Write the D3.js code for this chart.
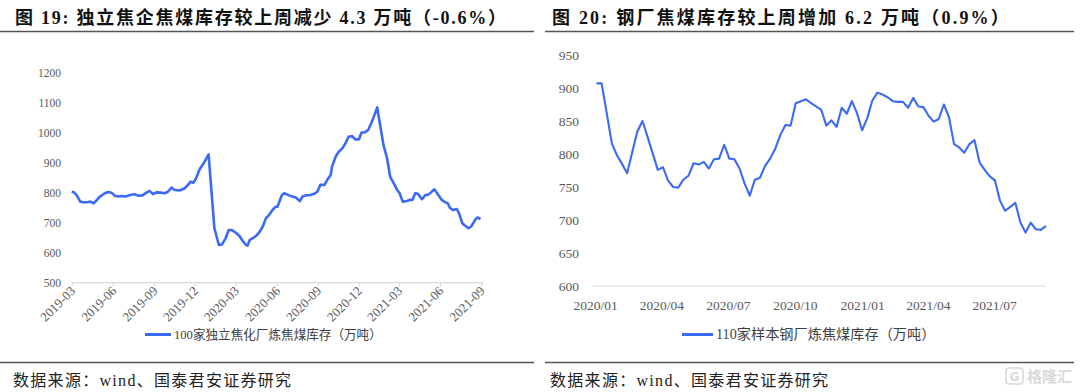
<!DOCTYPE html>
<html><head><meta charset="utf-8">
<script src="https://cdn.jsdelivr.net/npm/d3@7"></script>
<style>
html,body{margin:0;padding:0;background:#fff;}
svg{display:block;}
</style></head>
<body>
<svg id="c" width="1080" height="392"></svg>
<script>
// ---------- DATA ----------
const leftTitle = "图 19: 独立焦企焦煤库存较上周减少 4.3 万吨（-0.6%）";
const rightTitle = "图 20: 钢厂焦煤库存较上周增加 6.2 万吨（0.9%）";
const sourceText = "数据来源：wind、国泰君安证券研究";
const leftLegend = "100家独立焦化厂炼焦煤库存（万吨）";
const rightLegend = "110家样本钢厂炼焦煤库存（万吨）";

const leftDates = ["2019-03-01","2019-03-06","2019-03-12","2019-03-20","2019-03-27","2019-04-05","2019-04-12","2019-04-19","2019-04-26","2019-05-03","2019-05-14","2019-05-22","2019-05-29","2019-06-05","2019-06-13","2019-06-20","2019-06-30","2019-07-09","2019-07-20","2019-07-27","2019-08-06","2019-08-15","2019-08-22","2019-08-30","2019-09-06","2019-09-16","2019-09-25","2019-10-02","2019-10-10","2019-10-17","2019-10-28","2019-11-08","2019-11-16","2019-11-22","2019-11-28","2019-12-04","2019-12-12","2019-12-21","2020-01-01","2020-01-14","2020-01-24","2020-01-31","2020-02-08","2020-02-15","2020-02-22","2020-03-02","2020-03-10","2020-03-17","2020-03-25","2020-03-28","2020-04-02","2020-04-08","2020-04-16","2020-04-23","2020-05-01","2020-05-08","2020-05-15","2020-05-23","2020-05-30","2020-06-03","2020-06-13","2020-06-18","2020-06-29","2020-07-06","2020-07-14","2020-07-23","2020-07-29","2020-08-05","2020-08-16","2020-08-24","2020-08-31","2020-09-07","2020-09-16","2020-09-22","2020-09-30","2020-10-03","2020-10-11","2020-10-18","2020-10-26","2020-11-02","2020-11-09","2020-11-17","2020-11-24","2020-12-02","2020-12-08","2020-12-15","2020-12-23","2020-12-31","2021-01-06","2021-01-12","2021-01-19","2021-01-26","2021-02-03","2021-02-10","2021-02-18","2021-02-25","2021-03-03","2021-03-10","2021-03-19","2021-03-27","2021-04-01","2021-04-07","2021-04-13","2021-04-22","2021-04-29","2021-05-08","2021-05-16","2021-05-20","2021-05-29","2021-06-05","2021-06-13","2021-06-19","2021-06-24","2021-07-01","2021-07-09","2021-07-14","2021-07-21","2021-07-27","2021-08-04","2021-08-10","2021-08-19","2021-08-24","2021-08-31"];
const leftValues = [804,802,793,771,769,769,771,765,776,788,799,803,801,791,788,790,788,793,796,791,792,801,807,796,802,801,799,804,818,810,808,815,827,838,834,849,879,899,929,682,626,628,648,676,676,667,656,640,626,624,643,648,656,668,687,715,726,743,754,754,793,799,792,788,785,773,788,792,793,797,804,827,827,843,860,888,921,938,949,966,988,990,979,979,1002,1002,1011,1038,1061,1086,1022,960,916,854,832,812,799,771,773,777,777,799,797,779,792,796,807,812,792,777,769,765,749,743,746,732,699,691,682,688,710,718,713];
const leftTicks = ["2019-03","2019-06","2019-09","2019-12","2020-03","2020-06","2020-09","2020-12","2021-03","2021-06","2021-09"];
const leftYTicks = [500,600,700,800,900,1000,1100,1200];

const rightStart = "2020-01-03"; // weekly observations
const rightValues = [907,907,862,816,798,785,771,803,834,850,826,801,776,780,760,750,749,761,767,786,784,788,778,792,793,814,793,792,778,755,737,761,764,782,793,808,829,844,843,877,880,883,877,872,867,843,851,841,870,861,880,862,836,854,881,893,890,886,880,879,879,870,885,872,871,858,849,853,875,856,815,810,802,815,821,787,776,766,760,729,714,720,726,696,681,696,686,685,691];
const rightTicks = ["2020/01","2020/04","2020/07","2020/10","2021/01","2021/04","2021/07"];
const rightYTicks = [600,650,700,750,800,850,900,950];

// ---------- DRAW ----------
const svg = d3.select("#c");
const parse = d3.timeParse("%Y-%m-%d");
const LINE = "#3b6af5";
const TXT = "#404040";
const AX = "#595959";
const SERIF = "'Liberation Serif','Times New Roman','Noto Sans CJK SC',serif";
const CJK = "'Liberation Serif','Noto Sans CJK SC',serif";

// titles & rules
function header(x0, x1, tx, title, ls){
  svg.append("text").attr("x", tx).attr("y", 24)
    .attr("font-family", CJK).attr("font-size", 18).attr("font-weight", "bold")
    .attr("letter-spacing", ls).attr("fill", "#111").text(title);
  svg.append("line").attr("x1", x0).attr("x2", x1).attr("y1", 31.5).attr("y2", 31.5)
    .attr("stroke", "#555").attr("stroke-width", 1.5);
  svg.append("line").attr("x1", x0).attr("x2", x1).attr("y1", 362.5).attr("y2", 362.5)
    .attr("stroke", "#555").attr("stroke-width", 1.5);
  svg.append("text").attr("x", tx - 2).attr("y", 386)
    .attr("font-family", CJK).attr("font-size", 16).attr("letter-spacing", 1.3)
    .attr("fill", "#222").text(sourceText);
}
header(0, 534, 15, leftTitle, 1.75);
header(545, 1074, 552, rightTitle, 2.2);

// ---- left chart ----
const lx = d3.scaleTime().domain([parse("2019-03-01"), parse("2021-09-01")]).range([71.7, 481]);
const ly = d3.scaleLinear().domain([500, 1200]).range([282.7, 73.3]);
const gL = svg.append("g");
gL.append("line").attr("x1", 71.7).attr("x2", 483).attr("y1", ly(500)).attr("y2", ly(500))
  .attr("stroke", "#d9d9d9").attr("stroke-width", 1.2);
const lAxis = d3.axisBottom(lx).tickValues(leftTicks.map(t => parse(t + "-01")))
  .tickFormat((d, i) => leftTicks[i]).tickSize(4).tickSizeOuter(0);
const gLA = gL.append("g").attr("transform", `translate(0,${ly(500)})`).call(lAxis);
gLA.select(".domain").remove();
gLA.selectAll(".tick line").attr("stroke", "#d9d9d9");
gLA.selectAll(".tick text")
  .attr("font-family", SERIF).attr("font-size", 13).attr("fill", AX)
  .attr("text-anchor", "end").attr("dy", null).attr("y", 0)
  .attr("transform", "translate(4,9) rotate(-45)");
gL.selectAll(".ylab").data(leftYTicks).join("text")
  .attr("x", 61).attr("y", d => ly(d)).attr("dy", "0.35em").attr("text-anchor", "end")
  .attr("font-family", SERIF).attr("font-size", 11.5).attr("fill", AX).text(d => d);
const lData = leftDates.map((d, i) => ({d: parse(d), v: leftValues[i]}));
gL.append("path").datum(lData)
  .attr("d", d3.line().x(p => lx(p.d)).y(p => ly(p.v)))
  .attr("fill", "none").attr("stroke", LINE).attr("stroke-width", 2.6).attr("stroke-linejoin", "round");
gL.append("line").attr("x1", 145).attr("x2", 171).attr("y1", 334.5).attr("y2", 334.5)
  .attr("stroke", LINE).attr("stroke-width", 3);
gL.append("text").attr("x", 174).attr("y", 334.5).attr("dy", "0.35em")
  .attr("font-family", CJK).attr("font-size", 12.6).attr("fill", TXT).text(leftLegend);

// ---- right chart ----
const rDates = rightValues.map((v, i) => d3.timeDay.offset(parse(rightStart), 7 * i));
const rx = d3.scaleTime().domain([rDates[0], rDates[rDates.length - 1]]).range([596.5, 1046]);
const ry = d3.scaleLinear().domain([600, 950]).range([286, 55]);
const gR = svg.append("g");
gR.append("line").attr("x1", 593).attr("x2", 1046).attr("y1", ry(600)).attr("y2", ry(600))
  .attr("stroke", "#d9d9d9").attr("stroke-width", 1.2);
const rAxis = d3.axisBottom(rx)
  .tickValues(rightTicks.map(t => parse(t.replace("/", "-") + "-01")))
  .tickFormat((d, i) => rightTicks[i]).tickSize(0).tickPadding(14);
const gRA = gR.append("g").attr("transform", `translate(0,${ry(600)})`).call(rAxis);
gRA.select(".domain").remove();
gRA.selectAll(".tick text").attr("font-family", SERIF).attr("font-size", 13.5).attr("fill", AX);
gR.selectAll(".ylab").data(rightYTicks).join("text")
  .attr("x", 579).attr("y", d => ry(d)).attr("dy", "0.35em").attr("text-anchor", "end")
  .attr("font-family", SERIF).attr("font-size", 13.5).attr("fill", AX).text(d => d);
const rData = rDates.map((d, i) => ({d, v: rightValues[i]}));
gR.append("path").datum(rData)
  .attr("d", d3.line().x(p => rx(p.d)).y(p => ry(p.v)))
  .attr("fill", "none").attr("stroke", LINE).attr("stroke-width", 2.1).attr("stroke-linejoin", "round");
gR.append("line").attr("x1", 682).attr("x2", 713).attr("y1", 334.5).attr("y2", 334.5)
  .attr("stroke", LINE).attr("stroke-width", 3);
gR.append("text").attr("x", 716).attr("y", 334.5).attr("dy", "0.35em")
  .attr("font-family", CJK).attr("font-size", 14.2).attr("fill", TXT).text(rightLegend);

// watermark
const wm = svg.append("g").attr("opacity", 0.55);
wm.append("rect").attr("x", 1006).attr("y", 368).attr("width", 17).attr("height", 16).attr("rx", 3)
  .attr("fill", "none").attr("stroke", "#bbb").attr("stroke-width", 1.5);
wm.append("text").attr("x", 1014.5).attr("y", 381).attr("text-anchor", "middle")
  .attr("font-family", "'DejaVu Sans',sans-serif").attr("font-size", 12).attr("font-weight", "bold").attr("fill", "#bbb").text("G");
wm.append("text").attr("x", 1027).attr("y", 382).attr("font-family", "'Noto Sans CJK SC',sans-serif")
  .attr("font-size", 15).attr("font-weight", "bold").attr("fill", "#bbb").text("格隆汇");
</script>
</body></html>
